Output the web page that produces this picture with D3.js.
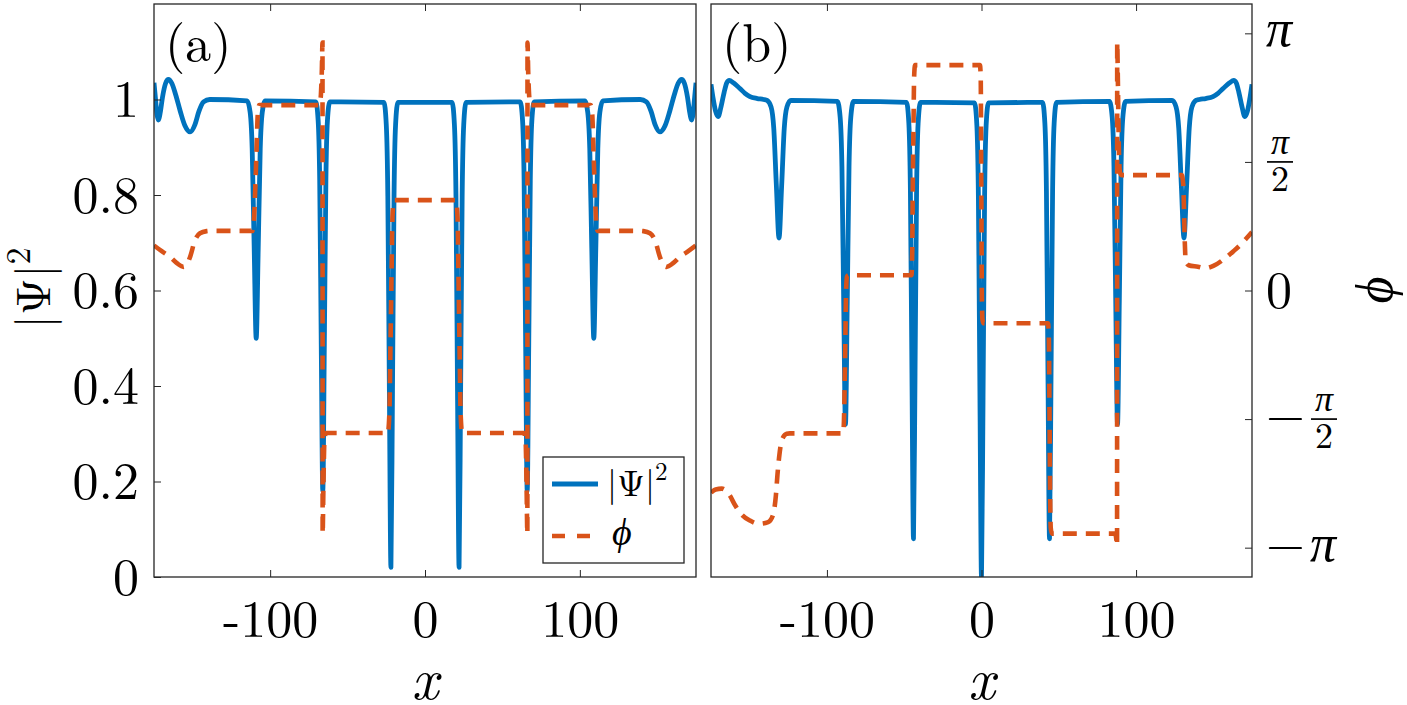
<!DOCTYPE html>
<html>
<head>
<meta charset="utf-8">
<script src="https://cdn.jsdelivr.net/npm/d3@7/dist/d3.min.js"></script>
<style>
  body { margin: 0; background: #fff; }
</style>
</head>
<body>
<svg></svg>
<script>
// ---- data ----
var xDomain = [-175, 175];
var ampDomain = [0, 1.2];
var phaseDomain = [-3.5, 3.5];
var xTicks = [-100, 0, 100];
var xTickLabels = ["-100", "0", "100"];
var ampTicks = [0, 0.2, 0.4, 0.6, 0.8, 1];
var ampTickLabels = ["0", "0.2", "0.4", "0.6", "0.8", "1"];
var phaseTicks = [-Math.PI, -Math.PI / 2, 0, Math.PI / 2, Math.PI];
var phaseTickLabels = ["−π", "−π/2", "0", "π/2", "π"];
var panelLabels = ["(a)", "(b)"];

// panel (a): |Psi|^2
var ampA = [
  [-175,1.035],[-174,1.0],[-173,0.967],[-172.2,0.957],[-171,0.972],[-169.5,1.005],[-167.5,1.034],[-165.7,1.042],
  [-163.5,1.034],[-161,1.01],[-158,0.975],[-155,0.945],[-151.7,0.932],[-148.5,0.948],[-146,0.975],[-143,0.995],[-139,1.0],
  [-114.8,0.997],[-112.9,0.973],[-111.6,0.897],[-110.3,0.688],[-109,0.5],[-107.7,0.688],[-106.4,0.897],[-105.1,0.973],[-103.2,0.997],
  [-70.5,0.995],[-69,0.956],[-68,0.831],[-67,0.488],[-66,0.18],[-65,0.488],[-64,0.831],[-63,0.956],[-61.5,0.995],
  [-26.5,0.994],[-25,0.947],[-24,0.798],[-23,0.389],[-22,0.02],[-21,0.389],[-20,0.798],[-19,0.947],[-17.5,0.994],
  [17.5,0.994],[19,0.947],[20,0.798],[21,0.389],[22,0.02],[23,0.389],[24,0.798],[25,0.947],[26.5,0.994],
  [61.5,0.995],[63,0.956],[64,0.831],[65,0.488],[66,0.18],[67,0.488],[68,0.831],[69,0.956],[70.5,0.995],
  [103.2,0.997],[105.1,0.973],[106.4,0.897],[107.7,0.688],[109,0.5],[110.3,0.688],[111.6,0.897],[112.9,0.973],[114.8,0.997],
  [139,1.0],[143,0.995],[146,0.975],[148.5,0.948],[151.7,0.932],[155,0.945],[158,0.975],[161,1.01],[163.5,1.034],
  [165.7,1.042],[167.5,1.034],[169.5,1.005],[171,0.972],[172.2,0.957],[173,0.967],[174,1.0],[175,1.035]
];

// panel (a): phase
var phaseA = [
  [-175,0.55],[-170,0.48],[-164.6,0.41],[-160,0.33],[-156,0.289],[-153.5,0.33],[-151.7,0.41],[-148.5,0.615],
  [-145.3,0.70],[-141,0.725],[-137.7,0.729],
  [-111.5,0.729],[-110.5,0.85],[-109.6,1.25],[-108.8,1.7],[-108,2.15],[-107,2.265],
  [-68,2.265],[-67.2,2.4],[-66.6,2.7],[-66.2,3.03],[-66.1,-2.97],[-65.6,-2.4],[-65,-1.85],[-64,-1.74],
  [-24,-1.74],[-23,-1.5],[-22.4,-0.8],[-22,-0.3],[-21.6,0.2],[-21,0.9],[-20,1.104],
  [20,1.104],[21,0.9],[21.6,0.2],[22,-0.3],[22.4,-0.8],[23,-1.5],[24,-1.74],
  [64,-1.74],[65,-1.85],[65.6,-2.4],[66.1,-2.97],[66.2,3.03],[66.6,2.7],[67.2,2.4],[68,2.265],
  [107,2.265],[108,2.15],[108.8,1.7],[109.6,1.25],[110.5,0.85],[111.5,0.729],
  [137.7,0.729],[141,0.725],[145.3,0.70],[148.5,0.615],[151.7,0.41],[153.5,0.33],[156,0.289],[160,0.33],
  [164.6,0.41],[170,0.48],[175,0.55]
];

// panel (b): |Psi|^2
var ampB = [
  [-175,1.032],[-173.5,1.0],[-172,0.975],[-170.4,0.964],[-168.5,0.985],[-166.5,1.015],[-164.8,1.035],[-163.2,1.04],
  [-160.5,1.035],[-156.3,1.023],[-153,1.013],[-149.8,1.006],[-145,1.002],[-141,1.0],
  [-138.7,0.998],[-136.1,0.984],[-134.4,0.94],[-132.7,0.819],[-131,0.71],[-129.3,0.819],[-127.6,0.94],[-125.9,0.984],[-123.3,0.998],
  [-93.2,0.996],[-91.45,0.963],[-90.3,0.86],[-89.15,0.576],[-88,0.32],[-86.85,0.576],[-85.7,0.86],[-84.55,0.963],[-82.8,0.996],
  [-48.5,0.994],[-47,0.95],[-46,0.81],[-45,0.426],[-44,0.08],[-43,0.426],[-42,0.81],[-41,0.95],[-39.5,0.994],
  [-4.5,0.993],[-3,0.946],[-2,0.794],[-1,0.376],[0,0],[1,0.376],[2,0.794],[3,0.946],[4.5,0.993],
  [39.5,0.994],[41,0.95],[42,0.81],[43,0.426],[44,0.08],[45,0.426],[46,0.81],[47,0.95],[48.5,0.994],
  [82.8,0.996],[84.55,0.963],[85.7,0.86],[86.85,0.576],[88,0.32],[89.15,0.576],[90.3,0.86],[91.45,0.963],[93.2,0.996],
  [123.3,0.998],[125.9,0.984],[127.6,0.94],[129.3,0.819],[131,0.71],[132.7,0.819],[134.4,0.94],[136.1,0.984],[138.7,0.998],
  [141,1.0],[145,1.002],[149.8,1.006],[153,1.013],[156.3,1.023],[160.5,1.035],[163.2,1.04],[164.8,1.035],[166.5,1.015],
  [168.5,0.985],[170.4,0.964],[172,0.975],[173.5,1.0],[175,1.032]
];

// panel (b): phase
var phaseB = [
  [-175,-2.47],[-172,-2.43],[-168,-2.42],[-163,-2.5],[-159.5,-2.62],[-155,-2.74],[-149.8,-2.81],[-144,-2.85],
  [-138,-2.83],[-135,-2.75],[-133,-2.5],[-132,-2.25],[-131,-2.05],[-130,-1.9],[-128.5,-1.8],[-126,-1.75],[-124,-1.745],
  [-89.5,-1.745],[-89,-1.6],[-88.4,-1.0],[-88,-0.5],[-87.6,0.0],[-87,0.17],[-86,0.187],
  [-45.3,0.187],[-44.8,0.5],[-44.4,1.4],[-44,2.0],[-43.6,2.6],[-43,2.753],
  [-1,2.753],[-0.5,2.6],[-0.2,1.5],[0,0.8],[0.2,0.0],[0.6,-0.35],[1.2,-0.4],
  [43,-0.4],[43.6,-0.6],[44,-1.5],[44.4,-2.5],[44.8,-2.9],[45.5,-2.97],
  [86.5,-2.97],[87.3,-3.05],[87.7,-3.12],[87.8,3.03],[88.2,2.6],[88.8,1.8],[89.5,1.45],[90.5,1.41],
  [129.5,1.41],[130.5,1.3],[131,1.0],[131.5,0.6],[132.2,0.35],[134,0.309],[140,0.29],[144.7,0.272],
  [150,0.3],[157.6,0.395],[163,0.48],[167.3,0.554],[171,0.63],[175,0.713]
];

// ---- layout ----
var W = 1407, H = 705;
var plotTop = 4, plotBottom = 577;
var panels = [
  { left: 154, right: 696, amp: ampA, phase: phaseA, rightAxis: false, labelX: 165 },
  { left: 711, right: 1252, amp: ampB, phase: phaseB, rightAxis: true, labelX: 722 }
];
var blue = "#0072BD", orange = "#D95319", frame = "#262626";
var FONT = "'Latin Modern Roman', 'Liberation Serif', serif";

function styled(sel, size, italic) {
  return sel.style("font-family", FONT)
    .style("font-size", size + "px")
    .style("font-style", italic ? "italic" : "normal")
    .attr("fill", "#000");
}

var svg = d3.select("svg").attr("width", W).attr("height", H);

var yAmp = d3.scaleLinear().domain(ampDomain).range([plotBottom, plotTop]);
var yPhase = d3.scaleLinear().domain(phaseDomain).range([plotBottom, plotTop]);

panels.forEach(function(p, i) {
  var x = d3.scaleLinear().domain(xDomain).range([p.left, p.right]);
  var g = svg.append("g");

  g.append("clipPath").attr("id", "clip" + i)
    .append("rect")
    .attr("x", p.left).attr("y", plotTop)
    .attr("width", p.right - p.left).attr("height", plotBottom - plotTop);

  var ampLine = d3.line()
    .x(function(d) { return x(d[0]); })
    .y(function(d) { return yAmp(d[1]); })
    .curve(d3.curveMonotoneX);
  var phaseLine = d3.line()
    .x(function(d) { return x(d[0]); })
    .y(function(d) { return yPhase(d[1]); })
    .curve(d3.curveMonotoneX);

  var plot = g.append("g").attr("clip-path", "url(#clip" + i + ")");
  plot.append("path").datum(p.amp)
    .attr("d", ampLine)
    .attr("fill", "none").attr("stroke", blue)
    .attr("stroke-width", 4.8).attr("stroke-linejoin", "round");
  plot.append("path").datum(p.phase)
    .attr("d", phaseLine)
    .attr("fill", "none").attr("stroke", orange)
    .attr("stroke-width", 4.6).attr("stroke-dasharray", "14,9");

  // x axes, ticks pointing inside
  var xb = g.append("g").attr("transform", "translate(0," + plotBottom + ")")
    .call(d3.axisBottom(x).tickValues(xTicks)
      .tickFormat(function(d, k) { return xTickLabels[k]; })
      .tickSizeInner(-7).tickSizeOuter(0).tickPadding(0));
  var xt = g.append("g").attr("transform", "translate(0," + plotTop + ")")
    .call(d3.axisTop(x).tickValues(xTicks).tickFormat("")
      .tickSizeInner(-7).tickSizeOuter(0));
  [xb, xt].forEach(function(a) {
    a.select(".domain").remove();
    a.selectAll("line").attr("stroke", frame);
  });
  styled(xb.selectAll("text"), 52, false).attr("dy", null).attr("y", 60);

  if (i === 0) {
    var yl = g.append("g").attr("transform", "translate(" + p.left + ",0)")
      .call(d3.axisLeft(yAmp).tickValues(ampTicks)
        .tickFormat(function(d, k) { return ampTickLabels[k]; })
        .tickSizeInner(-7).tickSizeOuter(0).tickPadding(15));
    yl.select(".domain").remove();
    yl.selectAll("line").attr("stroke", frame);
    styled(yl.selectAll("text"), 52, false).attr("dy", null).attr("y", 17);
  }

  if (p.rightAxis) {
    var yr = g.append("g").attr("transform", "translate(" + p.right + ",0)")
      .call(d3.axisRight(yPhase).tickValues(phaseTicks).tickFormat("")
        .tickSizeInner(-7).tickSizeOuter(0));
    yr.select(".domain").remove();
    yr.selectAll("line").attr("stroke", frame);

    phaseTicks.forEach(function(t, k) {
      var lab = phaseTickLabels[k];
      var yy = yPhase(t);
      var lx = p.right + 14;
      var neg = lab.charAt(0) === "−";
      var body = neg ? lab.slice(1) : lab;
      if (neg) {
        styled(g.append("text"), 50, false).attr("x", lx).attr("y", yy + 13).text("−");
        lx += 44;
      }
      if (body.indexOf("/") > 0) {
        var parts = body.split("/");
        styled(g.append("text"), 36, true).attr("x", lx + 14).attr("y", yy - 8)
          .attr("text-anchor", "middle").text(parts[0]);
        g.append("line")
          .attr("x1", lx + 1).attr("x2", lx + 27)
          .attr("y1", yy).attr("y2", yy)
          .attr("stroke", "#000").attr("stroke-width", 1.7);
        styled(g.append("text"), 36, false).attr("x", lx + 14).attr("y", yy + 29)
          .attr("text-anchor", "middle").text(parts[1]);
      } else if (body === "π") {
        styled(g.append("text"), 52, true).attr("x", lx).attr("y", yy + 13).text(body);
      } else {
        styled(g.append("text"), 52, false).attr("x", lx).attr("y", yy + 17).text(body);
      }
    });
  }

  // frame
  g.append("rect")
    .attr("x", p.left).attr("y", plotTop)
    .attr("width", p.right - p.left).attr("height", plotBottom - plotTop)
    .attr("fill", "none").attr("stroke", frame).attr("stroke-width", 1.3);

  // panel label
  styled(g.append("text"), 52, false).attr("x", p.labelX).attr("y", 61).text(panelLabels[i]);

  // x label
  styled(g.append("text"), 58, true)
    .attr("x", (p.left + p.right) / 2).attr("y", 699)
    .attr("text-anchor", "middle").text("x");
});

// y labels
var yLab = styled(svg.append("text"), 48, false)
  .attr("transform", "translate(50,288) rotate(-90)")
  .attr("text-anchor", "middle")
  .text("|Ψ|");
yLab.append("tspan").attr("dy", -20).style("font-size", "34px").text("2");

styled(svg.append("text"), 52, true)
  .attr("transform", "translate(1392,290) rotate(-90)")
  .attr("text-anchor", "middle")
  .text("ϕ");

// legend
var lg = svg.append("g");
lg.append("rect").attr("x", 543).attr("y", 457).attr("width", 141).attr("height", 106)
  .attr("fill", "#fff").attr("stroke", frame).attr("stroke-width", 1.3);
lg.append("line").attr("x1", 552).attr("x2", 598).attr("y1", 484).attr("y2", 484)
  .attr("stroke", blue).attr("stroke-width", 4.8);
var lgTxt = styled(lg.append("text"), 36, false).attr("x", 607).attr("y", 496).text("|Ψ|");
lgTxt.append("tspan").attr("dy", -16).style("font-size", "25px").text("2");
lg.append("line").attr("x1", 552).attr("x2", 591).attr("y1", 536).attr("y2", 536)
  .attr("stroke", orange).attr("stroke-width", 4.6).attr("stroke-dasharray", "13,12");
styled(lg.append("text"), 38, true).attr("x", 612).attr("y", 545).text("ϕ");
</script>
</body>
</html>
